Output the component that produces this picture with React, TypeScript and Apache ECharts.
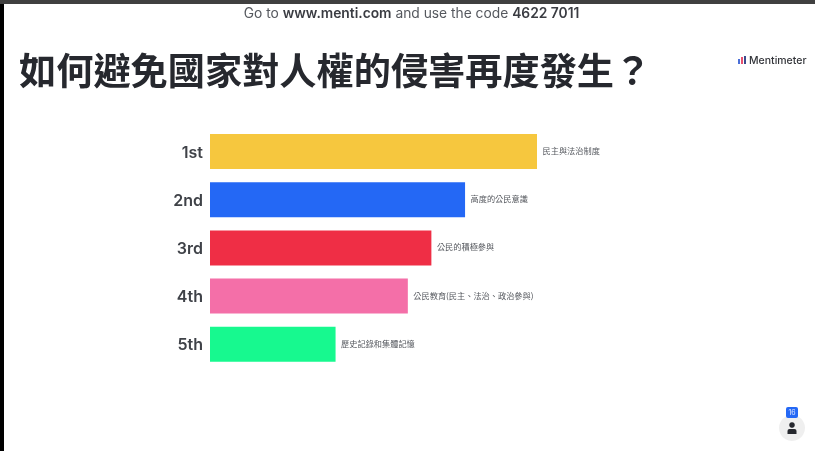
import React, { useEffect, useRef } from "react";
import * as echarts from "echarts";

const ranks = ["1st", "2nd", "3rd", "4th", "5th"];
const answers = [
  "民主與法治制度",
  "高度的公民意識",
  "公民的積極參與",
  "公民教育(民主、法治、政治參與)",
  "歷史記錄和集體記憶",
];
const scores = [100, 78, 67.7, 60.5, 38.4];
const barColors = ["#f6c73e", "#2468f5", "#ef2e45", "#f46fa8", "#17f98f"];
const titleText = "如何避免國家對人權的侵害再度發生？";
const cjk = '"Noto Sans CJK TC", "Noto Sans CJK SC", sans-serif';

export default function App() {
  const ref = useRef<HTMLDivElement>(null);
  useEffect(() => {
    const chart = echarts.init(ref.current!, null, { renderer: "svg" });
    chart.setOption({
      animation: false,
      backgroundColor: "#ffffff",
      title: {
        text: titleText,
        left: 14,
        top: 45,
        padding: [5, 5],
        textStyle: { fontFamily: cjk, fontSize: 37.2, fontWeight: 700, color: "#26282e" },
      },
      grid: { left: 210, top: 127.4, width: 327, height: 241 },
      xAxis: { type: "value", min: 0, max: 100, show: false },
      yAxis: {
        type: "category",
        inverse: true,
        data: ranks,
        axisLine: { show: false },
        axisTick: { show: false },
        splitLine: { show: false },
        axisLabel: {
          margin: 7,
          fontFamily: "Inter, sans-serif",
          fontSize: 16,
          fontWeight: 600,
          color: "#3f4248",
        },
      },
      series: [
        {
          type: "bar",
          barWidth: 35,
          data: scores.map((v, i) => ({
            value: v,
            name: answers[i],
            itemStyle: { color: barColors[i] },
          })),
          label: {
            show: true,
            position: "right",
            distance: 5.5,
            offset: [0, -1.5],
            formatter: (p: any) => answers[p.dataIndex],
            fontFamily: cjk,
            fontSize: 8.2,
            color: "#55585e",
          },
        },
      ],
      graphic: [
        { type: "rect", silent: true, shape: { x: 0, y: 0, width: 815, height: 4 }, style: { fill: "#404040" } },
        { type: "rect", silent: true, shape: { x: 0, y: 4, width: 4, height: 447 }, style: { fill: "#000000" } },
        {
          type: "text",
          x: 411.5,
          y: 13,
          style: {
            text: "{a|Go to }{b|www.menti.com}{a| and use the code }{b|4622 7011}",
            align: "center",
            verticalAlign: "middle",
            rich: {
              a: { fontFamily: "Inter, sans-serif", fontSize: 13.8, fill: "#55585e", fontWeight: 400 },
              b: { fontFamily: "Inter, sans-serif", fontSize: 13.8, fill: "#3a3c42", fontWeight: 600 },
            },
          },
        },
        { type: "rect", shape: { x: 738, y: 59, width: 2, height: 5 }, style: { fill: "#4a6fd8" } },
        { type: "rect", shape: { x: 741, y: 57, width: 2, height: 7 }, style: { fill: "#e8506e" } },
        { type: "rect", shape: { x: 744, y: 56, width: 2, height: 8 }, style: { fill: "#3a4a8c" } },
        {
          type: "text",
          x: 749,
          y: 60,
          style: {
            text: "Mentimeter",
            verticalAlign: "middle",
            fontFamily: "Inter, sans-serif",
            fontSize: 10.5,
            fontWeight: 500,
            fill: "#33353a",
          },
        },
        { type: "circle", shape: { cx: 792, cy: 428, r: 13 }, style: { fill: "#efefef" } },
        { type: "circle", shape: { cx: 792, cy: 425, r: 2.8 }, style: { fill: "#26282e" } },
        { type: "rect", shape: { x: 787.5, y: 429, width: 9, height: 5, r: [2, 2, 0, 0] }, style: { fill: "#26282e" } },
        { type: "rect", shape: { x: 786, y: 407, width: 12, height: 11, r: 2 }, style: { fill: "#2468f5" } },
        {
          type: "text",
          x: 792,
          y: 412.5,
          style: {
            text: "16",
            align: "center",
            verticalAlign: "middle",
            fontFamily: "Inter, sans-serif",
            fontSize: 7,
            fill: "#dfe8ff",
          },
        },
      ],
    });
    return () => chart.dispose();
  }, []);
  return (
    <div
      ref={ref}
      style={{ position: "fixed", left: 0, top: 0, width: 815, height: 451, filter: "blur(0.5px)" }}
    />
  );
}
